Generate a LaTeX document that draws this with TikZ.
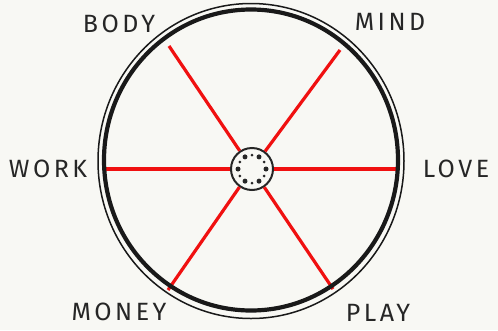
\documentclass[tikz,border=0pt]{standalone}
\usepackage{fontspec}
\newfontfamily\labelfont[LetterSpace=14]{Fira Sans}
\usepackage{xcolor}
\usetikzlibrary{positioning,calc}
\definecolor{paper}{HTML}{F8F8F4}
\definecolor{spokered}{HTML}{F01010}
\tikzset{
	label/.style={font=\labelfont\fontsize{25}{25}\selectfont,text=black!85},
	spoke/.style={draw=spokered,line width=3.2pt},
	bigdot/.style={circle,fill=black!85,inner sep=0pt,minimum size=5pt},
	smalldot/.style={circle,fill=black!85,inner sep=0pt,minimum size=3pt}
}
\begin{document}
\begin{tikzpicture}[x=1pt,y=-1pt]

	% Background
	\fill[paper] (0,0) rectangle (498,330);
	\useasboundingbox (0,0) rectangle (498,330);

	% Hub
	\node[circle,draw=black!85,line width=2pt,minimum size=42pt,inner sep=0pt] (hub) at (252,169) {};

	% Rim points
	\coordinate (rimE) at (396,169);
	\coordinate (rimW) at (105,169);
	\coordinate (rimNE) at (340,50);
	\coordinate (rimNW) at (169,46);
	\coordinate (rimSE) at (333,289);
	\coordinate (rimSW) at (168,290);

	% Spokes
	\foreach \r in {rimE,rimW,rimNE,rimNW,rimSE,rimSW}
	{
		\draw[spoke] (hub) -- (\r);
	}

	% Rim
	\draw[black!90,line width=4.2pt] (251,160) ellipse (147 and 150.5);
	\draw[black!90,line width=1.5pt] (251,161) ellipse (153 and 157.5);

	% Dots in the hub
	\foreach \a in {0,60,...,300}
	{
		\node[bigdot] at ($(hub)+(\a:14)$) {};
	}
	\foreach \a in {30,90,...,330}
	{
		\node[smalldot] at ($(hub)+(\a:14)$) {};
	}

	% Labels
	\node[label] (body) at (119,24) {BODY};
	\node[label] (mind) at (390,22) {MIND};
	\node[label] (work) at (48,169) {WORK};
	\node[label] (love) at (456,169) {LOVE};
	\node[label] (money) at (119,312) {MONEY};
	\node[label] (play) at (378,313) {PLAY};

\end{tikzpicture}
\end{document}
